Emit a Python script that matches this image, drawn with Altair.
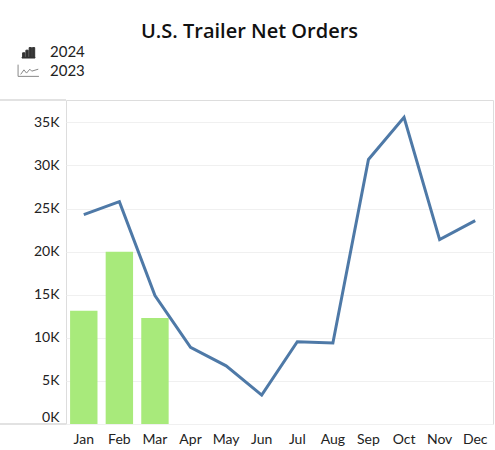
import altair as alt
import pandas as pd

months = ["Jan", "Feb", "Mar", "Apr", "May", "Jun", "Jul", "Aug", "Sep", "Oct", "Nov", "Dec"]
orders_2023 = [24300, 25800, 14900, 8900, 6750, 3350, 9550, 9400, 30700, 35600, 21400, 23600]
months_2024 = ["Jan", "Feb", "Mar"]
orders_2024 = [13150, 20000, 12300]
series = ["2024", "2023"]

df23 = pd.DataFrame({"month": months, "orders": orders_2023})
df24 = pd.DataFrame({"month": months_2024, "orders": orders_2024})
dfleg = pd.DataFrame({"series": series})

FONT = "Lato"
W, H = 427, 324

x_enc = alt.X("month:N", sort=months, scale=alt.Scale(domain=months, paddingInner=0.23, paddingOuter=0.115),
              axis=alt.Axis(title=None, labelAngle=0, labelFontSize=14, labelColor="#222222",
                            labelPadding=8, ticks=False, domain=False, labelFont=FONT))
y_scale = alt.Scale(domain=[0, 37600], nice=False)
y_axis = alt.Axis(title=None, values=[0, 5000, 10000, 15000, 20000, 25000, 30000, 35000],
                  labelExpr="datum.value/1000 + 'K'", labelFontSize=14, labelColor="#222222",
                  labelPadding=7, ticks=False, domain=False, grid=True, gridColor="#f0f0f0",
                  gridWidth=1, labelFlush=True, labelFont=FONT)

bars = alt.Chart(df24).mark_bar(color="#a8ea7b").encode(
    x=x_enc,
    y=alt.Y("orders:Q", scale=y_scale, axis=y_axis),
)

line = alt.Chart(df23).mark_line(color="#4e79a7", strokeWidth=3).encode(
    x=alt.X("month:N", sort=months),
    y=alt.Y("orders:Q", scale=y_scale),
)

bar_icon = "M-1,0.9H1V1H-1Z M-0.9,0.2H-0.55V0.9H-0.9Z M-0.4,-0.2H-0.05V0.9H-0.4Z M0.1,-0.6H0.45V0.9H0.1Z M0.6,-0.6H0.95V0.9H0.6Z"
line_icon = "M-1.6,-0.9V0.9H1.6 M-1.2,0.6L-0.7,-0.1L-0.3,0.4L0.2,-0.2L0.5,0.1L1.5,-0.2"

leg = alt.Legend(title=None, orient="none", legendX=-45, legendY=-56,
                 labelFontSize=15, labelColor="#222222", labelFont=FONT,
                 symbolSize=170, symbolOpacity=1, symbolStrokeWidth=1,
                 rowPadding=1, labelOffset=14)

legend_layer = alt.Chart(dfleg).mark_point(opacity=0, filled=False).encode(
    shape=alt.Shape("series:N", scale=alt.Scale(domain=series, range=[bar_icon, line_icon]), legend=leg),
    fill=alt.Fill("series:N", scale=alt.Scale(domain=series, range=["#333333", "transparent"]), legend=leg),
    stroke=alt.Stroke("series:N", scale=alt.Scale(domain=series, range=["#333333", "#888888"]), legend=leg),
)

edge_top = alt.Chart(dfleg).mark_rule(color="#e0e0e0", strokeWidth=1.5).encode(
    x=alt.value(-66), x2=alt.value(0), y=alt.value(0))
edge_bot = alt.Chart(dfleg).mark_rule(color="#e0e0e0", strokeWidth=1.5).encode(
    x=alt.value(-66), x2=alt.value(0), y=alt.value(H))

chart = alt.layer(bars, line, legend_layer, edge_top, edge_bot).properties(
    width=W, height=H,
    autosize=alt.AutoSizeParams(type="none"),
    padding={"left": 66, "top": 100, "right": 2, "bottom": 26},
    title=alt.Title("U.S. Trailer Net Orders", fontSize=20, fontWeight=600, font="Open Sans",
                    color="#111111", anchor="middle", dx=-30, offset=2),
).configure_view(stroke="#e0e0e0", strokeWidth=1.5).configure(background="white")

chart.save("out.html", embed_options={"renderer": "svg", "actions": False})
